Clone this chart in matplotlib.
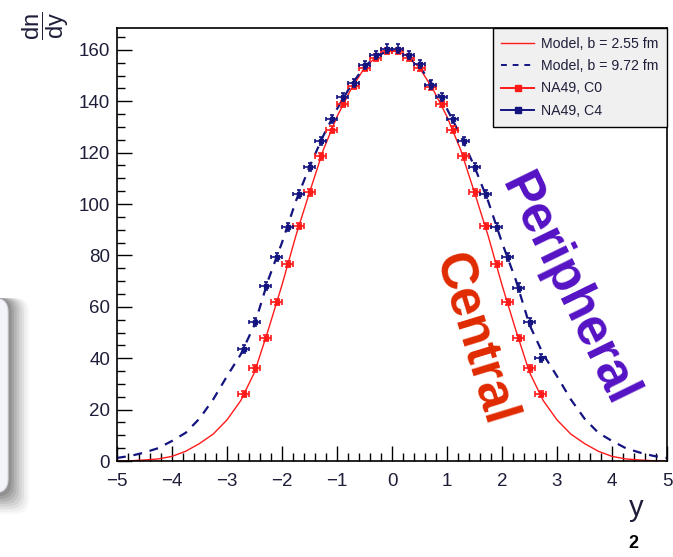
import matplotlib
matplotlib.use('Agg')
from matplotlib import pyplot as plt
from matplotlib.patches import FancyBboxPatch
from matplotlib.lines import Line2D
from matplotlib.ticker import MultipleLocator

plt.rcParams['font.family'] = ['Liberation Sans', 'DejaVu Sans']
plt.rcParams['mathtext.fontset'] = 'custom'
plt.rcParams['mathtext.rm'] = 'Liberation Sans'
plt.rcParams['mathtext.it'] = 'Liberation Sans'

# NA49 rapidity points
y_pts = [-2.7, -2.5, -2.3, -2.1, -1.9, -1.7, -1.5, -1.3, -1.1, -0.9, -0.7, -0.5, -0.3, -0.1,
         0.1, 0.3, 0.5, 0.7, 0.9, 1.1, 1.3, 1.5, 1.7, 1.9, 2.1, 2.3, 2.5, 2.7]
c0 = [26, 36, 48, 62, 76.5, 91.5, 104.5, 118.5, 129, 139, 146, 153, 157, 159.5,
      159.5, 157, 153, 145.5, 139, 129, 118.5, 104.5, 91.5, 76.5, 62, 48, 36, 26]
c4 = [43.5, 54, 68, 79.5, 91, 104, 114.5, 124.5, 133, 141.5, 147, 154, 158, 160.5,
      160.5, 158, 154.5, 146.5, 141.5, 133, 124.5, 114.5, 104, 91, 79.5, 67.5, 54, 40]
c0_err = [1.2] * len(y_pts)
c4_err = [1.6] * len(y_pts)

# model curves
y_model = [-5, -4.75, -4.5, -4.25, -4, -3.75, -3.5, -3.25, -3, -2.75, -2.5, -2.25, -2, -1.75,
           -1.5, -1.25, -1, -0.75, -0.5, -0.25, 0, 0.25, 0.5, 0.75, 1, 1.25, 1.5, 1.75,
           2, 2.25, 2.5, 2.75, 3, 3.25, 3.5, 3.75, 4, 4.25, 4.5, 4.75, 5]
m_central = [0, 0.1, 0.4, 0.8, 1.8, 3.8, 6.8, 10.5, 16, 23.5, 34.5, 51, 68.5, 87.5,
             104.5, 121, 134, 144.5, 153, 158, 160, 158, 153, 144.5, 134, 121, 104.5, 87.5,
             68.5, 51, 34.5, 23.5, 16, 10.5, 6.8, 3.8, 1.8, 0.8, 0.4, 0.1, 0]
m_periph = [1.2, 2.0, 3.3, 5, 7.8, 11, 16.5, 24, 33, 41.5, 53, 70.5, 85, 101,
            114.5, 126.5, 137, 146, 153.5, 158, 160, 158, 153.5, 146, 137, 126.5, 114.5, 101,
            85, 70.5, 53, 41.5, 33, 24, 16.5, 11, 7.8, 5, 3.3, 2.0, 1.2]

RED = '#ff1a1a'
NAVY = '#141480'
TXT = '#1e1e3a'

W, H = 673, 557
fig = plt.figure(figsize=(W / 100, H / 100), dpi=100)

# partial slide box on the left edge, with a soft shadow
for i, a in enumerate([0.03, 0.04, 0.05, 0.06, 0.07, 0.08, 0.09, 0.10]):
	d = 2.5 * (8 - i)
	sh = FancyBboxPatch((-60, 60 - d + 3), 60 + 9 + d, 196 + d,
	                    boxstyle='round,pad=0,rounding_size=14', transform=None,
	                    facecolor='black', edgecolor='none', alpha=a)
	fig.patches.append(sh)
box = FancyBboxPatch((-60, 64), 68, 195, boxstyle='round,pad=0,rounding_size=14',
                     transform=None, facecolor='#f3f3fa', edgecolor='#d8d8e4', lw=0.8)
fig.patches.append(box)

left, right, top, bottom = 117, 667, 28, 461
ax = fig.add_axes([left / W, 1 - bottom / H, (right - left) / W, (bottom - top) / H])

ax.plot(y_model, m_central, color=RED, lw=1.0, zorder=2)
ax.plot(y_model, m_periph, color=NAVY, lw=1.6, dashes=(4, 3.5), zorder=2)

ax.errorbar(y_pts, c0, xerr=0.1, yerr=c0_err, fmt='s', ms=2.5, color=RED, ecolor=RED,
            elinewidth=1.2, capsize=2, capthick=1.2, zorder=3)
ax.errorbar(y_pts, c4, xerr=0.1, yerr=c4_err, fmt='s', ms=3.2, color=NAVY, ecolor=NAVY,
            elinewidth=1.2, capsize=1.5, capthick=1.2, zorder=4)

ax.set_xlim(-5, 5)
ax.set_ylim(0, 168.5)
ax.xaxis.set_major_locator(MultipleLocator(1))
ax.xaxis.set_minor_locator(MultipleLocator(0.2))
ax.yaxis.set_major_locator(MultipleLocator(20))
ax.yaxis.set_minor_locator(MultipleLocator(5))
ax.tick_params(which='both', direction='in', top=False, right=False, width=1.0,
               colors='black', labelcolor=TXT, labelsize=13.5)
ax.tick_params(which='major', length=11)
ax.tick_params(which='minor', length=5.5)
ax.tick_params(axis='x', pad=9)
ax.tick_params(axis='y', pad=5)
for s in ax.spines.values():
	s.set_linewidth(1.2)

# legend
handles = [
	Line2D([], [], color=RED, lw=1.0),
	Line2D([], [], color=NAVY, lw=1.4, dashes=(3, 3)),
	Line2D([], [], color=RED, lw=1.4, marker='s', ms=5),
	Line2D([], [], color=NAVY, lw=1.4, marker='s', ms=5),
]
labels = ['Model, b = 2.55 fm', 'Model, b = 9.72 fm', 'NA49, C0', 'NA49, C4']
leg = ax.legend(handles, labels, loc='upper right', bbox_to_anchor=(1.0, 1.0),
                fontsize=10.2, frameon=True, fancybox=False, borderaxespad=0,
                handlelength=2.3, handletextpad=0.5, labelspacing=0.6,
                borderpad=0.6, labelcolor=TXT)
leg.get_frame().set_facecolor('#f0f0f0')
leg.get_frame().set_edgecolor('black')
leg.get_frame().set_linewidth(1.0)
leg.get_frame().set_alpha(1)

# annotations
fig.text(568 / W, 1 - 290 / H, 'Peripheral', color='#5512c4', fontsize=37,
         fontweight='bold', rotation=-64, ha='center', va='center', rotation_mode='anchor')
fig.text(474 / W, 1 - 340 / H, 'Central', color='#e02a00', fontsize=37,
         fontweight='bold', rotation=-73, ha='center', va='center', rotation_mode='anchor')

fig.text(46 / W, 1 - 26 / H, r'$\dfrac{\mathrm{dn}}{\mathrm{dy}}$', rotation=90,
         fontsize=17, color=TXT, ha='center', va='center')
fig.text(636 / W, 1 - 508 / H, 'y', fontsize=21, color=TXT, ha='center', va='center')
fig.text(633 / W, 1 - 543 / H, '2', fontsize=13, fontweight='bold', color='black',
         ha='center', va='center')

fig.savefig('out.png', dpi=100)
